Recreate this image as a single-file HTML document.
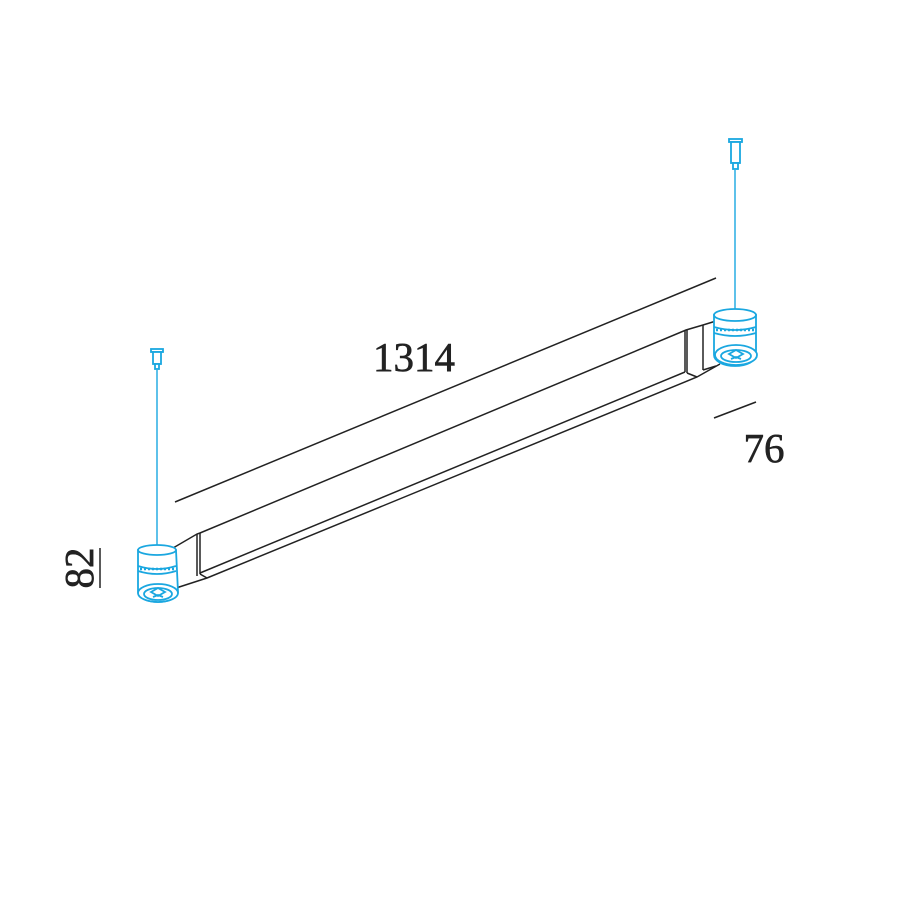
<!DOCTYPE html>
<html><head><meta charset="utf-8"><style>
html,body{margin:0;padding:0;background:#fff;width:900px;height:900px;overflow:hidden}
</style></head><body>
<svg width="900" height="900" viewBox="0 0 900 900" xmlns="http://www.w3.org/2000/svg">
<rect width="900" height="900" fill="#fff"/>
<g stroke="#222" stroke-width="1.5" fill="none">
<line x1="175" y1="502" x2="716" y2="278"/>
<line x1="714" y1="418" x2="756" y2="402"/>
<line x1="100" y1="548" x2="100" y2="588"/>
<polyline points="173,589 173,548 197,534 200,533 686,330 703,325 716,321"/>
<line x1="197" y1="534" x2="197" y2="576"/>
<line x1="200" y1="533" x2="200" y2="574"/>
<line x1="200" y1="573" x2="685" y2="372"/>
<polyline points="173,589 207,578 697,377 720,364"/>
<line x1="200" y1="574" x2="207" y2="578"/>
<line x1="685" y1="330" x2="685" y2="372"/>
<line x1="687" y1="330" x2="687" y2="373"/>
<line x1="703" y1="325" x2="703" y2="370"/>
<line x1="687" y1="373" x2="697" y2="377"/>
<line x1="703" y1="370" x2="716" y2="366"/>
</g>
<g stroke="#1aa7e0" stroke-width="1.8" fill="#fff">
<line x1="157" y1="370" x2="157" y2="548" stroke-width="1.4"/>
<rect x="151" y="349" width="12" height="3"/>
<rect x="153" y="352" width="8" height="12"/>
<rect x="155" y="364" width="4" height="5"/>
<path d="M138,550 L138,592 A20,10 0 0 0 178,592 L176,550 Z"/>
<ellipse cx="157" cy="550" rx="19" ry="5"/>
<ellipse cx="158" cy="593" rx="20" ry="9"/>
<ellipse cx="158" cy="594" rx="14" ry="6"/>
<path d="M151,592 l7,-4 l7,4 l-7,4 z M153,597 l5,-2 l5,2"/>
<path d="M138,566 Q157,572 176,566 M138,571 Q157,577 176,571" />
<path d="M140,569 L175,569" stroke-dasharray="2 2" stroke-width="2.5"/>
<line x1="735" y1="170" x2="735" y2="310" stroke-width="1.4"/>
<rect x="729" y="139" width="13" height="3"/>
<rect x="731" y="142" width="9" height="21"/>
<rect x="733" y="163" width="5" height="6"/>
<path d="M714,315 L714,355 A21,11 0 0 0 756,355 L756,315 Z"/>
<ellipse cx="735" cy="315" rx="21" ry="6"/>
<ellipse cx="736" cy="355" rx="21" ry="10"/>
<ellipse cx="736" cy="356" rx="15" ry="6"/>
<path d="M729,354 l7,-4 l7,4 l-7,4 z M731,359 l5,-2 l5,2"/>
<path d="M714,327 Q735,333 756,327 M714,333 Q735,339 756,333"/>
<path d="M716,330 L754,330" stroke-dasharray="2 2" stroke-width="2.5"/>
</g>
<g font-family="'Liberation Serif', serif" fill="#222" stroke="#222" stroke-width="0.6">
<text x="414" y="371" font-size="41" text-anchor="middle">1314</text>
<text x="764" y="462" font-size="41" text-anchor="middle">76</text>
<text transform="translate(93,568) rotate(-90)" font-size="41" text-anchor="middle">82</text>
</g>
</svg>
</body></html>
